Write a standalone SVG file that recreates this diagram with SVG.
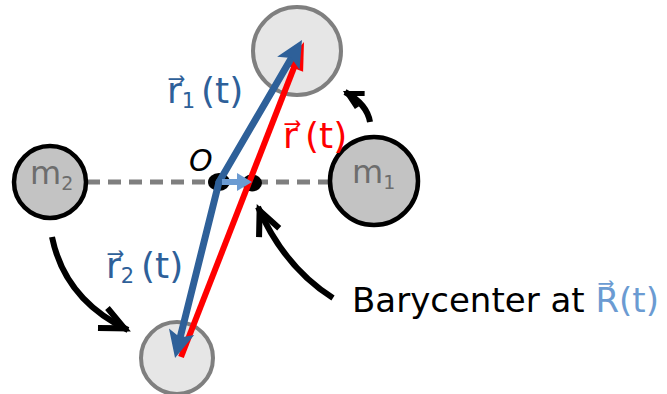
<svg xmlns="http://www.w3.org/2000/svg" width="667" height="394" viewBox="0 0 667 394">
<style>
.lbl{font-family:"DejaVu Sans","Liberation Sans",sans-serif}
.ghost{fill:#e6e6e6;stroke:#7f7f7f;stroke-width:4}
.mass{fill:#c3c3c3;stroke:#000;stroke-width:4.5}
.mtxt{fill:#6d6d6d;font-size:32px}
.curve{fill:none;stroke:#000;stroke-width:6}
</style>
<defs>
<marker id="blueHead" markerUnits="userSpaceOnUse" viewBox="0 0 1 1" markerWidth="1" markerHeight="1" refX="-18" refY="0" orient="auto" overflow="visible">
<path d="M0,0 L-27,-13 L-21,0 L-27,13 Z" fill="#2e6099"/>
</marker>
<marker id="redHead" markerUnits="userSpaceOnUse" viewBox="0 0 1 1" markerWidth="1" markerHeight="1" refX="-20" refY="0" orient="auto" overflow="visible">
<path d="M0,0 L-28,-10 L-28,10 Z" fill="#ff0000"/>
</marker>
<marker id="lbHead" markerUnits="userSpaceOnUse" viewBox="0 0 1 1" markerWidth="1" markerHeight="1" refX="-10" refY="0" orient="auto" overflow="visible">
<path d="M0,0 L-15,-9 L-15,9 Z" fill="#6b9bd2"/>
</marker>
<marker id="vHead" markerUnits="userSpaceOnUse" viewBox="0 0 1 1" markerWidth="1" markerHeight="1" refX="4" refY="0" orient="auto" overflow="visible">
<path d="M-24,-11 L0,0 L-24,11" fill="none" stroke="#000" stroke-width="6"/>
</marker>
<marker id="vHeadS" markerUnits="userSpaceOnUse" viewBox="0 0 1 1" markerWidth="1" markerHeight="1" refX="3" refY="0" orient="auto" overflow="visible">
<path d="M-15,-8 L0,0 L-15,8" fill="none" stroke="#000" stroke-width="5"/>
</marker>
</defs>
<rect width="667" height="394" fill="#fff"/>

<g id="axis">
<line x1="87" y1="182" x2="332" y2="182" stroke="#7f7f7f" stroke-width="5" stroke-dasharray="13 8"/>
</g>

<g id="body1-next"><circle class="ghost" cx="297" cy="51" r="44"/></g>
<g id="body2-next"><circle class="ghost" cx="177" cy="358" r="36"/></g>
<g id="m1"><circle class="mass" cx="374" cy="181" r="44"/>
<text class="lbl mtxt" x="352" y="183">m<tspan font-size="19" dy="6">1</tspan></text></g>
<g id="m2"><circle class="mass" cx="50" cy="182" r="36"/>
<text class="lbl mtxt" x="30" y="184">m<tspan font-size="19" dy="6">2</tspan></text></g>
<g id="origin"><ellipse cx="219" cy="182" rx="11" ry="9" fill="#000"/>
<text class="lbl" x="189" y="171" font-size="30" font-style="italic" fill="#000">O</text></g>
<g id="barycenter"><ellipse cx="252" cy="183" rx="10" ry="8.5" fill="#000"/></g>

<g id="connectors">
<line x1="181" y1="357" x2="296.7" y2="60.6" stroke="#ff0000" stroke-width="6" marker-end="url(#redHead)"/>
<line x1="219" y1="182" x2="292.9" y2="55.5" stroke="#2e6099" stroke-width="7" stroke-linecap="round" marker-end="url(#blueHead)"/>
<line x1="219" y1="182" x2="179.4" y2="340.5" stroke="#2e6099" stroke-width="7" stroke-linecap="round" marker-end="url(#blueHead)"/>
<line x1="222" y1="182" x2="242" y2="182" stroke="#6b9bd2" stroke-width="6" marker-end="url(#lbHead)"/>
<path class="curve" d="M370,122 Q367,104 345,92" stroke-width="5" marker-end="url(#vHeadS)"/>
<path class="curve" d="M52,237 Q65,300 128,330" marker-end="url(#vHead)"/>
<path class="curve" d="M333,298 Q284,267 258,207" marker-end="url(#vHead)"/>
</g>

<g id="labels">
<text class="lbl" x="167" y="103" font-size="36" fill="#2e6099">r⃗<tspan font-size="21" dy="5">1</tspan><tspan x="201" dy="-5">(t)</tspan></text>
<text class="lbl" x="106" y="278" font-size="36" fill="#2e6099">r⃗<tspan font-size="21" dy="5">2</tspan><tspan x="141" dy="-5">(t)</tspan></text>
<text class="lbl" x="283" y="148" font-size="36" fill="#ff0000">r⃗<tspan x="305">(t)</tspan></text>
<text class="lbl" x="352" y="312" font-size="34" fill="#000">Barycenter at <tspan fill="#6b9bd2">R⃗(t)</tspan></text>
</g>
</svg>
